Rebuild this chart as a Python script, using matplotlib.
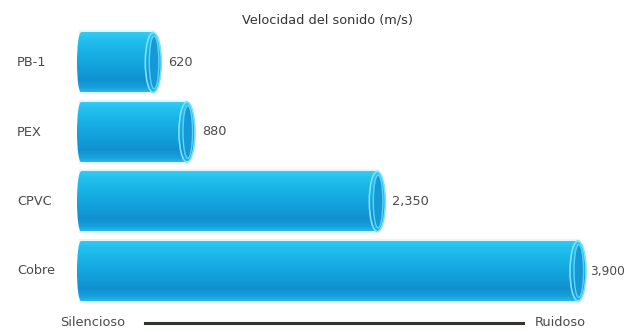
import matplotlib
matplotlib.use('Agg')
import matplotlib.pyplot as plt
import numpy as np
from matplotlib.patches import Ellipse, Rectangle
from matplotlib.colors import LinearSegmentedColormap

plt.rcParams['font.family'] = ['DejaVu Sans']

# data
materials = ['PB-1', 'PEX', 'CPVC', 'Cobre']
speeds = [620, 880, 2350, 3900]
speed_labels = ['620', '880', '2,350', '3,900']
title = 'Velocidad del sonido (m/s)'
scale_left = 'Silencioso'
scale_right = 'Ruidoso'

W, H = 626, 332
FS = 9.3
TXT = '#4a4a4a'
fig = plt.figure(figsize=(W / 100, H / 100), dpi=100)
fig.patch.set_facecolor('white')

# axes: zero at pixel 81, 0.1295 px per m/s
px_per_unit = 505 / 3900
x0_px = 81
pad_px = 12
ax = fig.add_axes([(x0_px - pad_px) / W, 0, 1 - (x0_px - pad_px) / W, 1])
xlim = (-pad_px / px_per_unit, (W - x0_px) / px_per_unit)
row_px, first_px = 69.5, 62.5
ylim = ((H - first_px) / row_px, -first_px / row_px)
ax.axis('off')

# vertical shading of the tube (top -> bottom)
tube = LinearSegmentedColormap.from_list('tube', [
    (0.00, '#36CBF2'), (0.12, '#22C0EE'), (0.35, '#17B0E5'),
    (0.62, '#129ED9'), (0.80, '#1190D0'), (0.93, '#17A2DE'), (1.00, '#2AB8EA')])
grad = np.linspace(0, 1, 256).reshape(-1, 1)

bar_h = 60 / row_px
cap_w = 16 / px_per_unit
left_w = 8 / px_per_unit

for i, (v, lab) in enumerate(zip(speeds, speed_labels)):
    body_end = v - cap_w / 2
    bars = ax.barh(i, body_end, height=bar_h, color='none', edgecolor='none')
    rect = bars[0]
    y0, y1 = i - bar_h / 2, i + bar_h / 2

    # soft glow
    ax.add_patch(Rectangle((0, y0), body_end, bar_h, facecolor='none',
                           edgecolor='#BDEFFC', lw=3, alpha=0.45, zorder=1))

    ext = (-left_w, v, y1, y0)
    im = ax.imshow(grad, cmap=tube, aspect='auto', extent=ext,
                   zorder=2, interpolation='bilinear')
    im.set_clip_path(rect)

    left = Ellipse((0, i), left_w, bar_h, facecolor='none', edgecolor='none')
    ax.add_patch(left)
    im2 = ax.imshow(grad, cmap=tube, aspect='auto', extent=ext,
                    zorder=2, interpolation='bilinear')
    im2.set_clip_path(left)

    # right end cap
    cap = Ellipse((body_end, i), cap_w, bar_h, facecolor='none', edgecolor='none')
    ax.add_patch(cap)
    im3 = ax.imshow(grad, cmap=tube, aspect='auto', extent=ext,
                    zorder=3, interpolation='bilinear')
    im3.set_clip_path(cap)
    ax.add_patch(Ellipse((body_end, i), cap_w, bar_h, facecolor='none',
                         edgecolor='#7FE0FA', lw=1.2, zorder=4))
    ax.add_patch(Ellipse((body_end + cap_w * 0.05, i), cap_w * 0.6, bar_h * 0.88,
                         facecolor='#1599D6', edgecolor='#5FD3F6', lw=1.0, zorder=4))

    # keep the value label inside the picture
    end_px = x0_px + v * px_per_unit
    off_px = min(7, W - 1 - end_px - 35)
    ax.text(v + off_px / px_per_unit, i, lab, ha='left', va='center',
            fontsize=FS if off_px >= 7 else 8.8, color=TXT)
    fig.text(17 / W, 1 - (first_px + row_px * i) / H, materials[i],
             ha='left', va='center', fontsize=FS, color=TXT)

# restore the axis limits changed by imshow
ax.set_xlim(*xlim)
ax.set_ylim(*ylim)

fig.text(328 / W, 1 - 20 / H, title, ha='center', va='center',
         fontsize=FS, color='#333333')

# quiet -> noisy scale
fig.text(60 / W, 1 - 322 / H, scale_left, ha='left', va='center',
         fontsize=FS, color=TXT)
fig.text(535 / W, 1 - 322 / H, scale_right, ha='left', va='center',
         fontsize=FS, color=TXT)
fig.add_artist(plt.Line2D([145 / W, 523 / W], [1 - 323 / H, 1 - 323 / H],
                          color='#2f3630', lw=2.2, transform=fig.transFigure))

fig.savefig('out.png', dpi=100, facecolor='white')
